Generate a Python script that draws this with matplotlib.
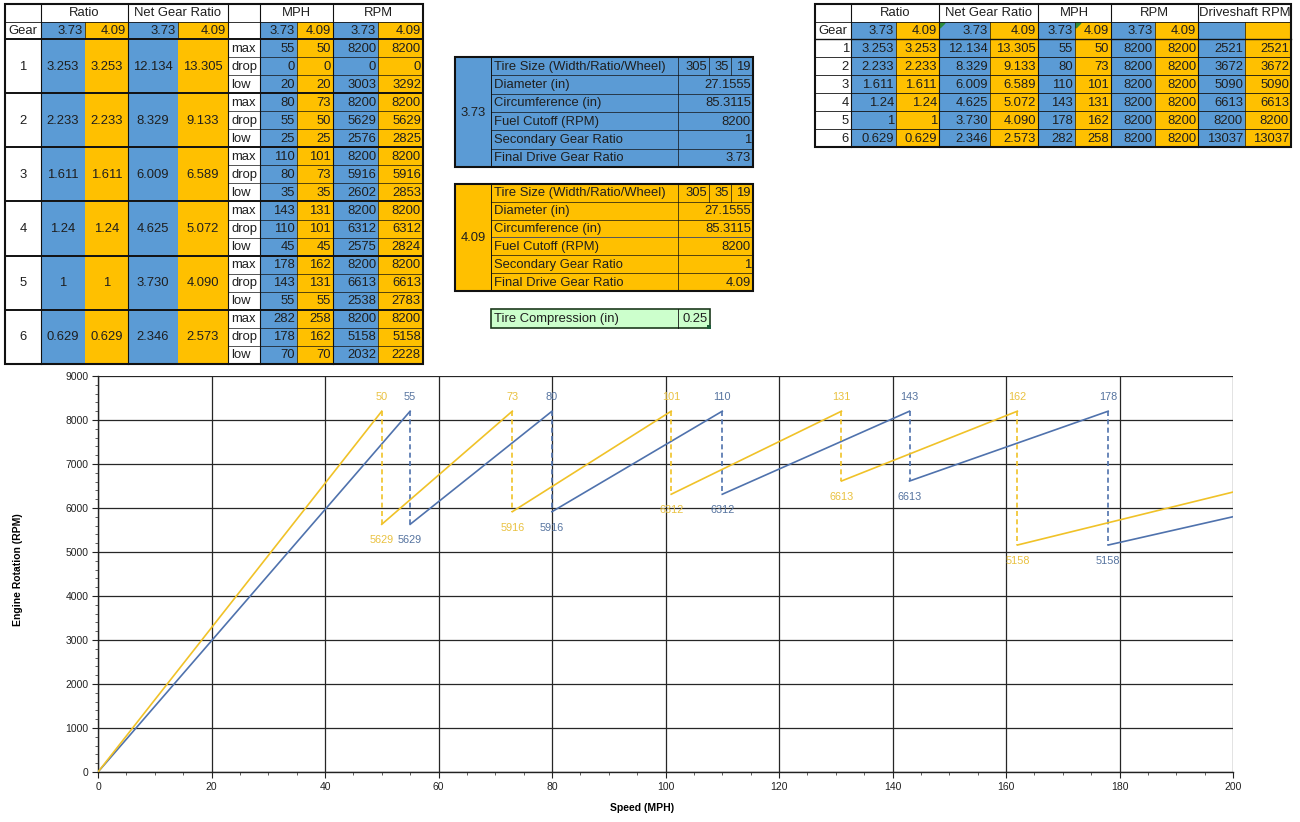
import matplotlib
matplotlib.use('Agg')
import matplotlib.pyplot as plt
from matplotlib.patches import Rectangle, Polygon
import numpy as np

plt.rcParams['font.family'] = ['Liberation Sans', 'DejaVu Sans']

# ---- data ----
gears = [1, 2, 3, 4, 5, 6]
ratio = [3.253, 2.233, 1.611, 1.24, 1, 0.629]
net_373 = [12.134, 8.329, 6.009, 4.625, 3.730, 2.346]
net_409 = [13.305, 9.133, 6.589, 5.072, 4.090, 2.573]

mph_max_373 = [55, 80, 110, 143, 178, 282]
mph_max_409 = [50, 73, 101, 131, 162, 258]
mph_drop_373 = [0, 55, 80, 110, 143, 178]
mph_drop_409 = [0, 50, 73, 101, 131, 162]
mph_low = [20, 25, 35, 45, 55, 70]

rpm_max = [8200, 8200, 8200, 8200, 8200, 8200]
rpm_drop = [0, 5629, 5916, 6312, 6613, 5158]
rpm_low_373 = [3003, 2576, 2602, 2575, 2538, 2032]
rpm_low_409 = [3292, 2825, 2853, 2824, 2783, 2228]

driveshaft = [2521, 3672, 5090, 6613, 8200, 13037]

final_drive = ['3.73', '4.09']
tire_size = [305, 35, 19]
spec_labels = ['Tire Size (Width/Ratio/Wheel)', 'Diameter (in)', 'Circumference (in)',
               'Fuel Cutoff (RPM)', 'Secondary Gear Ratio', 'Final Drive Gear Ratio']
spec_values = ['27.1555', '85.3115', '8200', '1']
tire_compression = 0.25

BLUE = '#5b9bd5'
YEL = '#ffc000'
TXT = '#1f1f1f'
LINE_B = '#4f72ad'
LINE_Y = '#f0c228'
LAB_B = '#55739f'
LAB_Y = '#e9c140'
FS = 9.4

fig = plt.figure(figsize=(13, 8.22), dpi=100)

# pixel-space axes for the spreadsheet tables
tab = fig.add_axes([0, 0, 1, 1])
tab.set_xlim(0, 1300)
tab.set_ylim(822, 0)
tab.axis('off')


def cell(x0, x1, y0, y1, text='', fill='white', ha='right', fs=FS):
    tab.add_patch(Rectangle((x0, y0), x1 - x0, y1 - y0, facecolor=fill, edgecolor='none'))
    if text != '':
        if ha == 'right':
            tx = x1 - 2
        elif ha == 'left':
            tx = x0 + 3
        else:
            tx = (x0 + x1) / 2
        tab.text(tx, (y0 + y1) / 2 + 0.5, text, ha=ha, va='center', fontsize=fs, color=TXT)


def hline(x0, x1, y, lw=0.6):
    tab.plot([x0, x1], [y, y], color='#111111', lw=lw, solid_capstyle='projecting')


def vline(x, y0, y1, lw=0.6):
    tab.plot([x, x], [y0, y1], color='#111111', lw=lw, solid_capstyle='projecting')


# ---- left table ----
c = [5, 41, 85, 128, 178, 228, 260, 297, 333, 378, 423]
r0, r1, r2 = 4, 22, 39
bh = (364 - 39) / 6.0

cell(c[0], c[1], r0, r1)
cell(c[1], c[3], r0, r1, 'Ratio', ha='center')
cell(c[3], c[5], r0, r1, 'Net Gear Ratio', ha='center')
cell(c[5], c[6], r0, r1)
cell(c[6], c[8], r0, r1, 'MPH', ha='center')
cell(c[8], c[10], r0, r1, 'RPM', ha='center')

cell(c[0], c[1], r1, r2, 'Gear', ha='center')
hdr = [(1, BLUE, final_drive[0]), (2, YEL, final_drive[1]), (3, BLUE, final_drive[0]),
       (4, YEL, final_drive[1]), (6, BLUE, final_drive[0]), (7, YEL, final_drive[1]),
       (8, BLUE, final_drive[0]), (9, YEL, final_drive[1])]
for k, col, t in hdr:
    cell(c[k], c[k + 1], r1, r2, t, fill=col)
cell(c[5], c[6], r1, r2)

for i in range(6):
    y0 = r2 + i * bh
    y1 = y0 + bh
    cell(c[0], c[1], y0, y1, str(gears[i]), ha='center')
    cell(c[1], c[2], y0, y1, f'{ratio[i]:g}', fill=BLUE, ha='center')
    cell(c[2], c[3], y0, y1, f'{ratio[i]:g}', fill=YEL, ha='center')
    cell(c[3], c[4], y0, y1, f'{net_373[i]:.3f}', fill=BLUE, ha='center')
    cell(c[4], c[5], y0, y1, f'{net_409[i]:.3f}', fill=YEL, ha='center')
    rows = [('max', mph_max_373[i], mph_max_409[i], rpm_max[i], rpm_max[i]),
            ('drop', mph_drop_373[i], mph_drop_409[i], rpm_drop[i], rpm_drop[i]),
            ('low', mph_low[i], mph_low[i], rpm_low_373[i], rpm_low_409[i])]
    for j, (lab, a, b, d, e) in enumerate(rows):
        s0 = y0 + j * bh / 3
        s1 = s0 + bh / 3
        cell(c[5], c[6], s0, s1, lab, ha='left')
        cell(c[6], c[7], s0, s1, str(a), fill=BLUE)
        cell(c[7], c[8], s0, s1, str(b), fill=YEL)
        cell(c[8], c[9], s0, s1, str(d), fill=BLUE)
        cell(c[9], c[10], s0, s1, str(e), fill=YEL)
        if j > 0:
            hline(c[5], c[10], s0, 0.5)
    hline(c[0], c[10], y0, 1.4)

hline(c[0], c[10], r1, 0.6)
for x in [c[1], c[3], c[5], c[6], c[8]]:
    vline(x, r0, 364, 0.8)
for x in [c[2], c[4]]:
    vline(x, r1, r2, 0.5)
for x in [c[7], c[9]]:
    vline(x, r1, 364, 0.5)
tab.add_patch(Rectangle((c[0], r0), c[10] - c[0], 364 - r0, fill=False, edgecolor='#111111', lw=1.5))


# ---- spec tables ----
def spec_table(top, bot, fill, fd):
    xs = [455, 491, 678, 753]
    ts = [678, 709, 731, 753]
    h = (bot - top) / 6.0
    cell(xs[0], xs[1], top, bot, fd, fill=fill, ha='center')
    vals = [None] + spec_values + [fd]
    for k in range(6):
        y0 = top + k * h
        y1 = y0 + h
        cell(xs[1], xs[2], y0, y1, spec_labels[k], fill=fill, ha='left')
        if k == 0:
            for m in range(3):
                cell(ts[m], ts[m + 1], y0, y1, str(tire_size[m]), fill=fill)
                if m > 0:
                    vline(ts[m], y0, y1, 0.5)
        else:
            cell(xs[2], xs[3], y0, y1, vals[k], fill=fill)
            hline(xs[1], xs[3], y0, 0.5)
    vline(xs[1], top, bot, 0.7)
    vline(xs[2], top, bot, 0.5)
    tab.add_patch(Rectangle((xs[0], top), xs[3] - xs[0], bot - top, fill=False, edgecolor='#111111', lw=1.5))


spec_table(57, 167, BLUE, final_drive[0])
spec_table(184, 291, YEL, final_drive[1])

# tire compression
cell(491, 678, 309, 328, 'Tire Compression (in)', fill='#ccffcc', ha='left')
cell(678, 710, 309, 328, f'{tire_compression:g}', fill='#ccffcc')
tab.add_patch(Rectangle((491, 309), 219, 19, fill=False, edgecolor='#1d3a1d', lw=1.2))
vline(678, 309, 328, 0.6)
tab.add_patch(Rectangle((707, 325.5), 4, 4, facecolor='#1d5e3a', edgecolor='none'))

# ---- right table ----
d = [815, 851, 896, 939, 990, 1038, 1075, 1111, 1155, 1198, 1245, 1291]
ry = [4, 22, 39, 57, 75, 93, 111, 129, 147]
cell(d[0], d[1], ry[0], ry[1])
groups = [('Ratio', 1, 3), ('Net Gear Ratio', 3, 5), ('MPH', 5, 7), ('RPM', 7, 9), ('Driveshaft RPM', 9, 11)]
for t, a, b in groups:
    cell(d[a], d[b], ry[0], ry[1], t, ha='center')
    vline(d[a], ry[0], ry[-1], 0.8)
cell(d[0], d[1], ry[1], ry[2], 'Gear', ha='center')
hdr2 = final_drive * 4 + ['', '']
for k in range(10):
    cell(d[k + 1], d[k + 2], ry[1], ry[2], hdr2[k], fill=BLUE if k % 2 == 0 else YEL)
for i in range(6):
    y0, y1 = ry[i + 2], ry[i + 3]
    vals = [f'{ratio[i]:g}', f'{ratio[i]:g}', f'{net_373[i]:.3f}', f'{net_409[i]:.3f}',
            str(mph_max_373[i]), str(mph_max_409[i]), str(rpm_max[i]), str(rpm_max[i]),
            str(driveshaft[i]), str(driveshaft[i])]
    cell(d[0], d[1], y0, y1, str(gears[i]))
    for k in range(10):
        cell(d[k + 1], d[k + 2], y0, y1, vals[k], fill=BLUE if k % 2 == 0 else YEL)
    hline(d[0], d[11], y0, 1.0 if i == 0 else 0.6)
hline(d[0], d[11], ry[1], 0.6)
for k in [2, 4, 6, 8, 10]:
    vline(d[k], ry[1], ry[-1], 0.5)
tab.add_patch(Rectangle((d[0], ry[0]), d[11] - d[0], ry[-1] - ry[0], fill=False, edgecolor='#111111', lw=1.5))
# excel error markers
for x in [d[3], d[6]]:
    tab.add_patch(Polygon([[x + 1, ry[1] + 1], [x + 6, ry[1] + 1], [x + 1, ry[1] + 6]], color='#2e8b3a'))

# ---- chart ----
ax = fig.add_axes([98 / 1300, 1 - 772 / 822, (1233 - 98) / 1300, (772 - 376) / 822])
series = [(mph_drop_373, mph_max_373, LINE_B, LAB_B),
          (mph_drop_409, mph_max_409, LINE_Y, LAB_Y)]
for drop_x, max_x, lc, tc in series:
    for i in range(6):
        ax.plot([drop_x[i], max_x[i]], [rpm_drop[i], rpm_max[i]], color=lc, lw=1.2, zorder=3)
    for i in range(1, 6):
        ax.plot([max_x[i - 1], max_x[i - 1]], [rpm_max[i - 1], rpm_drop[i]], color=lc, lw=1.2,
                ls=(0, (3, 2)), zorder=3)
        ax.annotate(str(max_x[i - 1]), (max_x[i - 1], rpm_max[i - 1]), xytext=(0, 10),
                    textcoords='offset points', ha='center', va='center', fontsize=7.8, color=tc)
        ax.annotate(str(rpm_drop[i]), (max_x[i - 1], rpm_drop[i]), xytext=(0, -11.5),
                    textcoords='offset points', ha='center', va='center', fontsize=7.8, color=tc)

ax.set_xlim(0, 200)
ax.set_ylim(0, 9000)
ax.set_xticks(np.arange(0, 201, 20))
ax.set_yticks(np.arange(0, 9001, 1000))
ax.set_xticks(np.arange(0, 201, 5), minor=True)
ax.set_yticks(np.arange(0, 9001, 200), minor=True)
ax.grid(True, which='major', color='#262626', lw=0.9)
ax.set_axisbelow(True)
for s in ['top', 'right']:
    ax.spines[s].set_visible(False)
for s in ['left', 'bottom']:
    ax.spines[s].set_color('#222222')
    ax.spines[s].set_linewidth(1.0)
ax.tick_params(which='major', length=4, width=0.8, labelsize=7.5, colors='#222222', pad=3)
ax.tick_params(which='minor', length=2, width=0.6, colors='#444444')
ax.set_facecolor('none')

fig.text(642 / 1300, 1 - 808 / 822, 'Speed (MPH)', ha='center', va='center', fontsize=7.5, fontweight='bold')
fig.text(18 / 1300, 1 - 570 / 822, 'Engine Rotation (RPM)', ha='center', va='center', fontsize=7.5,
         fontweight='bold', rotation=90)

fig.savefig('out.png', dpi=100)
